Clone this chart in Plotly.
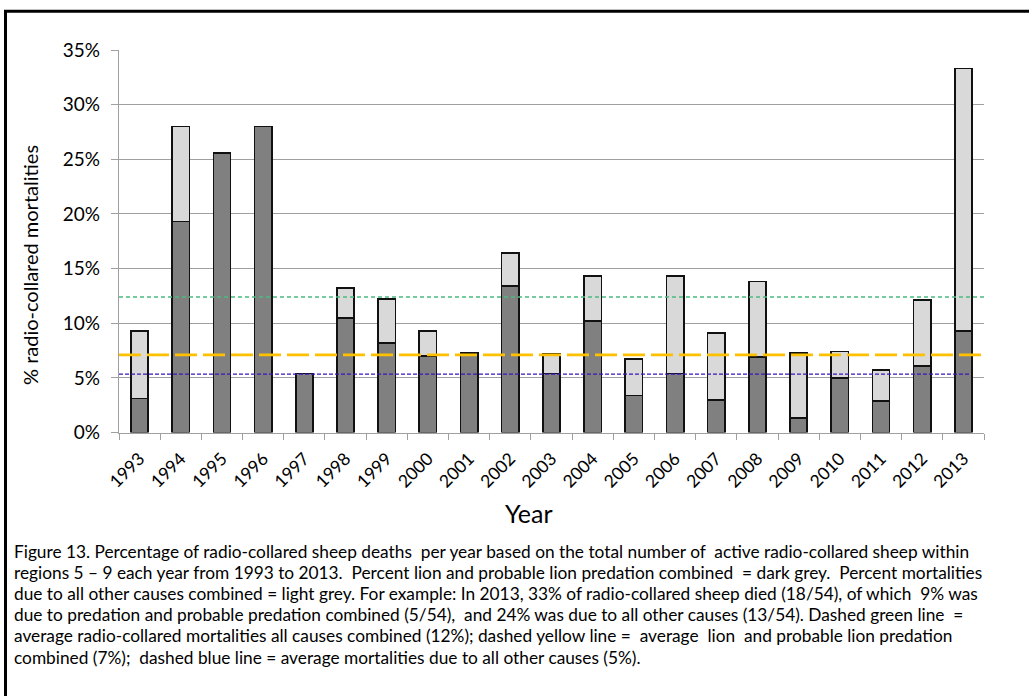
import plotly.graph_objects as go

years = [str(y) for y in range(1993, 2014)]
# total % radio-collared mortalities (all causes) per year
total_pct = [9.3, 28.0, 25.6, 28.0, 5.4, 13.2, 12.2, 9.3, 7.3, 16.4, 7.2,
             14.3, 6.7, 14.3, 9.1, 13.8, 7.3, 7.4, 5.7, 12.1, 33.3]
# % lion and probable lion predation (dark grey)
lion_pct = [3.1, 19.3, 25.6, 28.0, 5.4, 10.5, 8.2, 7.0, 7.3, 13.4, 5.4,
            10.2, 3.4, 5.4, 3.0, 6.9, 1.3, 5.0, 2.9, 6.1, 9.3]
# % all other causes (light grey)
other_pct = [round(t - l, 2) for t, l in zip(total_pct, lion_pct)]

avg_all = 12.4
avg_lion = 7.1
avg_other = 5.35

y_ticks = [0, 5, 10, 15, 20, 25, 30, 35]
y_tick_text = [f"{v}%" for v in y_ticks]

caption_lines = [
    "Figure 13. Percentage of radio-collared sheep deaths&nbsp; per year based on the total number of&nbsp; active radio-collared sheep within",
    "regions 5 – 9 each year from 1993 to 2013.&nbsp; Percent lion and probable lion predation combined&nbsp; = dark grey.&nbsp; Percent mortalities",
    "due to all other causes combined = light grey. For example: In 2013, 33% of radio-collared sheep died (18/54), of which&nbsp; 9% was",
    "due to predation and probable predation combined (5/54),&nbsp; and 24% was due to all other causes (13/54). Dashed green line&nbsp; =",
    "average radio-collared mortalities all causes combined (12%); dashed yellow line =&nbsp; average&nbsp; lion&nbsp; and probable lion predation",
    "combined (7%);&nbsp; dashed blue line = average mortalities due to all other causes (5%).",
]

W, H = 1029, 696
FONT = "Lato"


def px(x):
    return x / W


def py(y):
    return 1 - y / H


fig = go.Figure()
fig.add_trace(go.Bar(
    x=years, y=lion_pct, name="Lion and probable lion predation",
    marker=dict(color="#808080", line=dict(color="#111111", width=1.6)),
    width=0.42,
))
fig.add_trace(go.Bar(
    x=years, y=other_pct, name="All other causes",
    marker=dict(color="#d9d9d9", line=dict(color="#111111", width=1.6)),
    width=0.42,
))

frame_path = f"M {px(5.5)},0 L {px(5.5)},{py(11.3)} L 1,{py(11.3)}"

shapes = [
    dict(type="line", xref="x domain", yref="y", x0=0, x1=1.0, y0=avg_all, y1=avg_all,
         line=dict(color="#4cbb7f", width=1.3, dash="4px,3px")),
    dict(type="line", xref="x domain", yref="y", x0=0, x1=1.0, y0=avg_lion, y1=avg_lion,
         line=dict(color="#ffc000", width=2.8, dash="22px,6px")),
    dict(type="line", xref="x domain", yref="y", x0=0, x1=0.985, y0=avg_other, y1=avg_other,
         line=dict(color="#3a16b8", width=1.2, dash="4px,2px")),
    # outer document frame (left and top edges)
    dict(type="path", xref="paper", yref="paper", path=frame_path,
         fillcolor="rgba(0,0,0,0)", line=dict(color="black", width=3)),
]

annotations = [
    dict(text="% radio-collared mortalities", xref="paper", yref="paper",
         x=px(30), y=py(265), textangle=-90, showarrow=False,
         font=dict(family=FONT, size=20, color="black"), xanchor="center", yanchor="middle"),
    dict(text="Year", xref="paper", yref="paper", x=px(529), y=py(513), showarrow=False,
         font=dict(family=FONT, size=25, color="black"), xanchor="center", yanchor="middle"),
]
cap_y = [551, 572, 593, 614, 635, 657]
for line, yy in zip(caption_lines, cap_y):
    annotations.append(dict(text=line, xref="paper", yref="paper", x=px(12), y=py(yy),
                            showarrow=False, xanchor="left", yanchor="middle",
                            font=dict(family=FONT, size=17.3, color="black")))

fig.update_layout(
    template="none",
    width=W, height=H, autosize=False,
    margin=dict(l=0, r=0, t=0, b=0, pad=0, autoexpand=False),
    paper_bgcolor="white", plot_bgcolor="white",
    barmode="stack",
    showlegend=False,
    shapes=shapes,
    annotations=annotations,
    font=dict(family=FONT, color="black"),
    xaxis=dict(
        type="category", domain=[px(119), px(984)], automargin=False,
        tickangle=-45, tickson="boundaries", ticks="outside", ticklen=6,
        tickcolor="#a0a0a0", tickwidth=1.3, ticklabelstandoff=8,
        showline=True, linecolor="#a0a0a0", linewidth=1.3,
        showgrid=False, tickfont=dict(family=FONT, size=17.5, color="black"),
    ),
    yaxis=dict(
        domain=[py(432.5), py(50)], range=[0, 35], automargin=False,
        tickvals=y_ticks, ticktext=y_tick_text,
        ticks="outside", ticklen=7, tickcolor="#a0a0a0", tickwidth=1.3,
        ticklabelstandoff=7,
        showline=True, linecolor="#a0a0a0", linewidth=1.3,
        showgrid=True, gridcolor="#a0a0a0", gridwidth=1.3,
        zeroline=False,
        tickfont=dict(family=FONT, size=19, color="black"),
    ),
)

fig.write_html(
    "out.html",
    config={"displayModeBar": False},
    post_script=("document.body.style.margin='0';"
                 "document.documentElement.style.overflow='hidden';"
                 "document.body.style.overflow='hidden';"),
)
